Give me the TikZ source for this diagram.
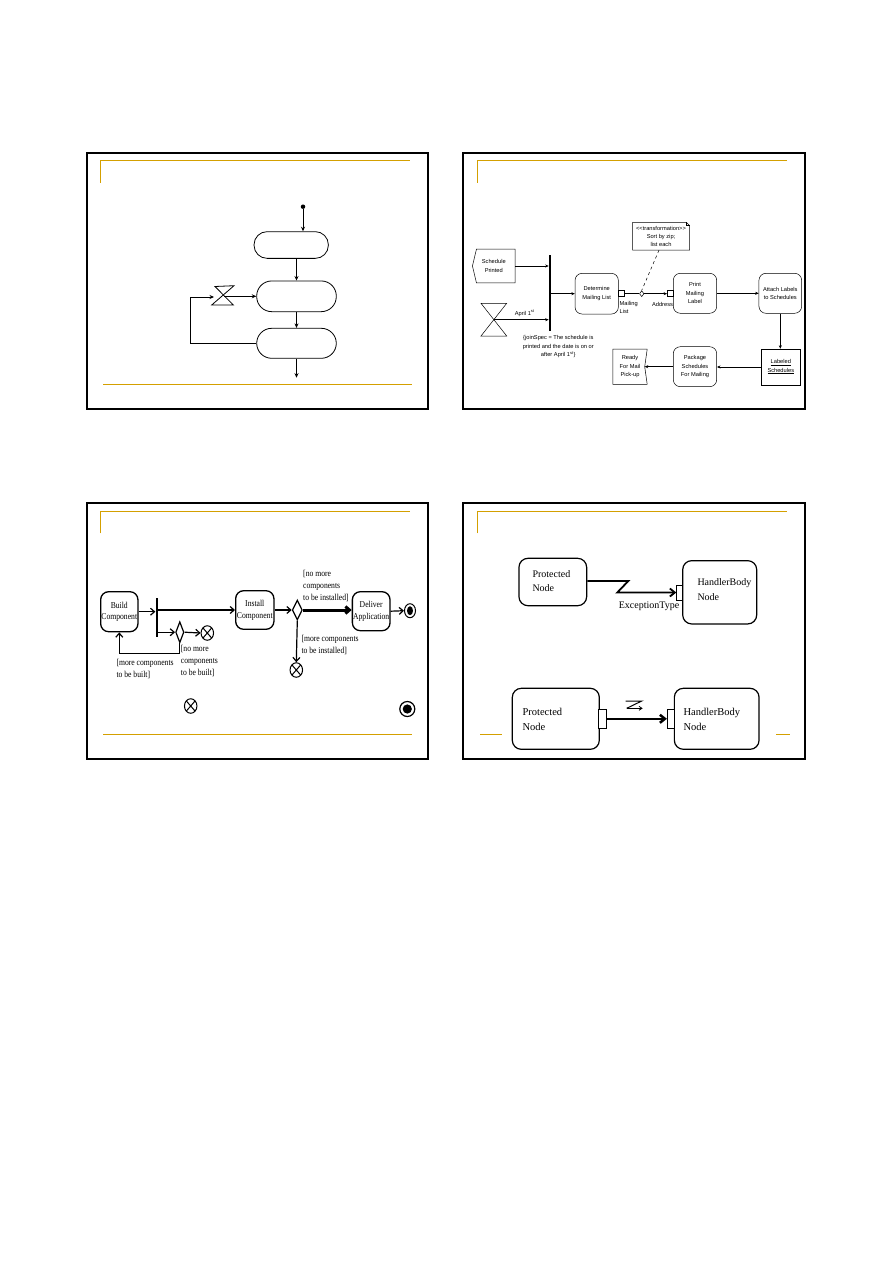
\documentclass[tikz,border=0pt]{standalone}
\usepackage{fontspec}
\setmainfont{Liberation Serif}
\newfontfamily\sansf{Liberation Sans}
\newfontfamily\condserif[FakeStretch=0.85]{Liberation Serif}
\usetikzlibrary{arrows.meta,shapes.geometric,calc}
\definecolor{slidegold}{RGB}{212,160,0}
\begin{document}
\begin{tikzpicture}[x=1pt,y=-1pt,
  frame/.style={draw=black,line width=2.2pt},
  goldl/.style={draw=slidegold,line width=1pt},
  arr/.style={-{Stealth[length=4.5pt,width=4pt]},line width=0.8pt},
  stad/.style={draw,line width=0.8pt,inner sep=0pt},
  s2txt/.style={font=\sansf\fontsize{5.7}{8.4}\selectfont,align=center,inner sep=0pt},
  s2act/.style={draw,line width=0.5pt,rounded corners=7pt,inner sep=0pt,s2txt},
  s2arr/.style={-{Stealth[length=3.5pt,width=3pt]},line width=0.5pt},
  pin/.style={draw,line width=0.7pt,inner sep=0pt,fill=white},
  s3txt/.style={font=\condserif\fontsize{9}{11.7}\selectfont,inner sep=0pt},
  s3act/.style={draw,line width=1.3pt,rounded corners=8pt,inner sep=0pt,align=center,s3txt},
  s3arr/.style={-{Straight Barb[length=4pt,width=7pt]},line width=1.2pt},
  ffin/.style={ellipse,draw,line width=1pt,minimum width=12.5pt,minimum height=14.5pt,inner sep=0pt,
    path picture={\draw[line width=1pt] (path picture bounding box.north west) -- (path picture bounding box.south east)
      (path picture bounding box.north east) -- (path picture bounding box.south west);}},
  afin/.style={ellipse,draw,line width=1pt,minimum width=11pt,minimum height=14pt,inner sep=0pt,
    path picture={\fill (path picture bounding box.center) ellipse [x radius=3pt,y radius=4.5pt];}},
  afinbig/.style={circle,draw,line width=1.2pt,minimum size=15pt,inner sep=0pt,
    path picture={\fill (path picture bounding box.center) circle (4.6pt);}},
  s4txt/.style={font=\fontsize{10}{14.3}\selectfont,align=left,inner sep=0pt},
  s4act/.style={draw,line width=1.2pt,rounded corners=9pt,inner sep=0pt},
  s4arr/.style={-{Straight Barb[length=5pt,width=8pt]}}
]
\useasboundingbox (0,0) rectangle (893,1263);

% ---------- slide frames ----------
\draw[frame] (86.7,152.7) rectangle (428.3,409);
\draw[goldl] (100,182.7) -- (100,160.7) -- (410,160.7);
\draw[goldl] (103,384.3) -- (412,384.3);

\draw[frame] (462.7,152.7) rectangle (805,409);
\draw[goldl] (477.3,182.7) -- (477.3,160.7) -- (786.7,160.7);

\draw[frame] (86.7,502.7) rectangle (428.3,759.3);
\draw[goldl] (100,533.3) -- (100,511.7) -- (410,511.7);
\draw[goldl] (103,734.3) -- (412,734.3);

\draw[frame] (462.7,502.7) rectangle (805,759.3);
\draw[goldl] (477.3,533.3) -- (477.3,511.7) -- (786.7,511.7);
\draw[goldl] (480,734.3) -- (501.7,734.3);
\draw[goldl] (776,734.3) -- (790,734.3);

% ---------- slide 1 ----------
\node[circle,fill,inner sep=0pt,minimum size=4.5pt] (a0) at (303,206.7) {};
\node[stad,rounded corners=13pt,minimum width=74.3pt,minimum height=26.7pt] (a1) at (291.2,245) {};
\node[stad,rounded corners=15pt,minimum width=79.6pt,minimum height=30.7pt] (a2) at (296.5,296.3) {};
\node[stad,rounded corners=15pt,minimum width=79.6pt,minimum height=30pt] (a3) at (296.5,343.3) {};
\draw[line width=0.8pt] (215,286.5) -- (234,285.7) -- (211.7,305) -- (233.3,305) -- cycle;
\coordinate (hg1) at (224,296.3);
\coordinate (hgL) at (214,297);
\coordinate (lp) at (190.7,297);
\coordinate (a4) at (296.5,377.7);
\draw[arr] (a0) -- (a0 |- a1.north);
\draw[arr] (a1.south -| a2.north) -- (a2.north);
\draw[arr] (a2.south) -- (a3.north);
\draw[arr] (a3.south) -- (a4);
\draw[arr] (a3.west) -| (lp) -- (hgL);
\draw[arr] (hg1) -- (a2.west);

% ---------- slide 2 ----------
\node[s2txt,minimum width=42.3pt,minimum height=33.4pt] (b1) at (493.8,266) {Schedule\\Printed};
\draw[line width=0.5pt] ($(b1.north west)+(4,0)$) -- (b1.north east) -- (b1.south east) -- ($(b1.south west)+(4,0)$) -- (b1.west) -- cycle;
\node[fill,inner sep=0pt,minimum width=2.2pt,minimum height=76pt] (b2) at (550,293) {};
\draw[line width=0.5pt] (481,303.3) -- (506.7,303.3) -- (481,336) -- (506.7,336) -- cycle;
\coordinate (b3) at (493.8,319.7);
\draw[s2arr] (b1.east) -- (b1.east -| b2.west);
\draw[s2arr] (b3) -- (b3 -| b2.west);
\node[s2txt] (b3l) at (524.7,313.3) {April 1\textsuperscript{st}};

\node[s2act,minimum width=43.3pt,minimum height=40.7pt] (b4) at (596.7,293.7) {Determine\\Mailing List};
\draw[s2arr] (b2.east |- b4.west) -- (b4.west);
\node[pin,line width=0.5pt,minimum width=5.7pt,minimum height=6pt] (b5) at (621.2,293.7) {};
\node[diamond,draw,line width=0.5pt,inner sep=0pt,minimum width=4.5pt,minimum height=6pt,fill=white] (b6) at (641.7,293.7) {};
\node[s2act,minimum width=43.4pt,minimum height=40pt] (b8) at (695,293.3) {Print\\Mailing\\Label};
\node[pin,line width=0.5pt,minimum width=6pt,minimum height=6pt] (b7) at (670.3,293.7) {};
\draw[line width=0.5pt] (b5.east) -- (b6.west);
\draw[s2arr] (b6.east) -- (b7.west);
\node[s2txt,align=left,anchor=north west] (b5l) at (619.5,301) {Mailing\\List};
\node[s2txt] (b7l) at (662.5,304) {Address};

\node[s2txt,font=\sansf\fontsize{5.7}{7.9}\selectfont,minimum width=56.6pt,minimum height=27.3pt] (b9) at (661,236.3) {<{}<transformation>{}>\\Sort by zip;\\list each};
\draw[line width=0.5pt] (b9.north west) -- ($(b9.north east)+(-3,0)$) -- ($(b9.north east)+(0,3)$) -- (b9.south east) -- (b9.south west) -- cycle;
\draw[line width=0.4pt] ($(b9.north east)+(-3,0)$) -- ($(b9.north east)+(-3,3)$) -- ($(b9.north east)+(0,3)$);
\draw[dashed,line width=0.5pt] ($(b9.south)+(-2,0)$) -- (b6.north);

\node[s2act,minimum width=42.7pt,minimum height=40pt] (b10) at (780.3,293.3) {Attach Labels\\to Schedules};
\draw[s2arr] (b8.east) -- (b10.west);
\node[s2txt,draw,line width=0.5pt,minimum width=38.3pt,minimum height=36pt] (b11) at (780.8,367) {\underline{Labeled}\\\underline{Schedules}};
\draw[s2arr] (b10.south) -- (b10.south |- b11.north);
\node[s2act,minimum width=43.4pt,minimum height=40pt] (b12) at (695,366.7) {Package\\Schedules\\For Mailing};
\draw[s2arr] (b11.west) -- (b11.west -| b12.east);
\node[s2txt,minimum width=34pt,minimum height=34.7pt] (b13) at (630,366.7) {Ready\\For Mail\\Pick-up};
\coordinate (b13n) at ($(b13.east)+(-2.5,0)$);
\draw[line width=0.5pt] (b13.north west) -- (b13.north east) -- (b13n) -- (b13.south east) -- (b13.south west) -- cycle;
\draw[s2arr] (b12.west) -- (b13n);

\node[s2txt] (b14) at (558.3,346.7) {\{joinSpec = The schedule is\\printed and the date is on or\\after April 1\textsuperscript{st}\}};

% ---------- slide 3 ----------
\node[s3act,minimum width=37.3pt,minimum height=40pt] (c1) at (119.3,611.7) {Build\\Component};
\node[fill,inner sep=0pt,minimum width=2.2pt,minimum height=38.4pt] (c2) at (156.7,617.5) {};
\node[s3act,minimum width=38.3pt,minimum height=38.6pt] (c3) at (254.8,610) {Install\\Component};
\node[diamond,draw,line width=1.2pt,inner sep=0pt,minimum width=8.3pt,minimum height=21pt] (c4) at (179.8,632.2) {};
\node[ffin] (c5) at (207.3,633) {};
\coordinate (c6) at (119.3,653.3);
\draw[s3arr] (c1.east) -- (c1.east -| c2.west);
\draw[s3arr] (c2.east |- c3.west) -- (c3.west);
\draw[s3arr] (c2.east |- c4.west) -- (c4.west);
\draw[s3arr] (c4.east) -- (c5.west);
\draw[s3arr] (c4.south) |- (c6) -- (c1.south);
\node[s3txt,align=left,anchor=west] (c1l) at (116.3,669.2) {[more components\\to be built]};
\node[s3txt,align=left,anchor=west] (c4l) at (180.7,661) {[no more\\components\\to be built]};

\node[diamond,draw,line width=1.2pt,inner sep=0pt,minimum width=10pt,minimum height=20pt] (c7) at (297.3,610) {};
\draw[s3arr] (c3.east) -- (c7.west);
\node[s3act,minimum width=37.7pt,minimum height=39pt] (c8) at (371.2,611.2) {Deliver\\Application};
\draw[s3arr,line width=3pt] (c7.east) -- (c7.east -| c8.west);
\node[s3txt,align=left,anchor=west] (c7l) at (303,586) {[no more\\components\\to be installed]};
\node[ffin] (c9) at (296.3,670) {};
\draw[s3arr] (c7.south) -- (c9.north);
\node[s3txt,align=left,anchor=west] (c9l) at (301.3,645) {[more components\\to be installed]};
\node[afin] (c10) at (410,610.7) {};
\draw[s3arr] (c8.east) -- (c10.west);
\node[ffin] (c11) at (190.7,706) {};
\node[afinbig] (c12) at (407.3,709) {};

% ---------- slide 4 ----------
\node[s4act,minimum width=67.7pt,minimum height=47.4pt] (d1) at (552.8,582) {};
\node[s4txt,anchor=west] (d1t) at (532.3,581.2) {Protected\\Node};
\node[s4act,minimum width=74pt,minimum height=63.3pt] (d3) at (719.7,592.3) {};
\node[s4txt,anchor=west] (d3t) at (697.3,589.7) {HandlerBody\\Node};
\node[pin,line width=0.8pt,minimum width=6pt,minimum height=15pt] (d2) at (679.7,592.5) {};
\coordinate (d4) at (628.3,581);
\coordinate (d5) at (617.3,592.5);
\draw[s4arr,line width=1.8pt] (d1.east |- d4) -- (d4) -- (d5) -- (d2.west);
\node[s4txt] (d6) at (649,606.7) {ExceptionType};

\node[s4act,minimum width=87pt,minimum height=61pt] (d7) at (555.8,718.8) {};
\node[s4txt,font=\fontsize{10.5}{14.4}\selectfont,anchor=west] (d7t) at (522.3,719.5) {Protected\\Node};
\node[pin,line width=0.8pt,minimum width=8pt,minimum height=19pt] (d8) at (602.7,718.8) {};
\node[s4act,minimum width=84.7pt,minimum height=61pt] (d10) at (716.7,718.8) {};
\node[s4txt,font=\fontsize{10.5}{14.4}\selectfont,anchor=west] (d10t) at (683.3,719.5) {HandlerBody\\Node};
\node[pin,line width=0.8pt,minimum width=7pt,minimum height=19pt] (d9) at (670.8,718.8) {};
\draw[s4arr,line width=2.5pt] (d8.east) -- (d9.west);
\draw[line width=1pt] (625.7,701) -- (641.7,701) -- (626.7,708.3);
\draw[line width=0.8pt,-{Straight Barb[length=3pt,width=4pt]}] (626.7,708.3) -- (642.7,708.3);
\end{tikzpicture}
\end{document}
